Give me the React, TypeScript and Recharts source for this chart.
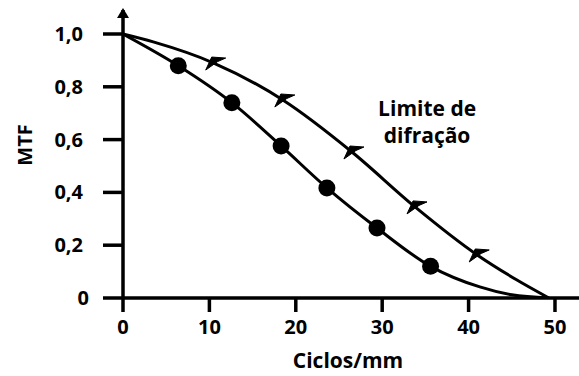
import React from 'react';
import { LineChart, Line, XAxis, YAxis, ReferenceDot } from 'recharts';

// Diffraction-limited curve (triangle markers)
const upperFreq = [0, 3.5, 10.5, 18.5, 26.5, 33.8, 41, 45.5, 49.3];
const upperMtf = [1.0, 0.97, 0.89, 0.75, 0.553, 0.345, 0.163, 0.07, 0];
const upperMarked = [false, false, true, true, true, true, true, false, false];

// Real lens curve (circle markers)
const lowerFreq = [0, 6.4, 12.6, 18.3, 23.6, 29.4, 35.6, 41.3, 45, 49.3];
const lowerMtf = [1.0, 0.88, 0.74, 0.576, 0.417, 0.265, 0.12, 0.042, 0.012, 0];
const lowerMarked = [false, true, true, true, true, true, true, false, false, false];

const xTicks = [0, 10, 20, 30, 40, 50];
const yTicks = [0, 0.2, 0.4, 0.6, 0.8, 1.0];
const yTickLabels = ['0', '0,2', '0,4', '0,6', '0,8', '1,0'];

const xLabel = 'Ciclos/mm';
const yLabel = 'MTF';
const annotationLines = ['Limite de', 'difração'];

const X_MAX = 52.78;
const Y_MAX = 1.0909;

const upperData = upperFreq.map((x, i) => ({ x, y: upperMtf[i], mk: upperMarked[i] }));
const lowerData = lowerFreq.map((x, i) => ({ x, y: lowerMtf[i], mk: lowerMarked[i] }));

const FONT = '"Open Sans", sans-serif';

const CircleDot = (props: any) => {
  const { cx, cy, payload, index } = props;
  if (!payload || !payload.mk) return <g key={`c${index}`} />;
  return <circle key={`c${index}`} cx={cx} cy={cy} r={8.5} fill="#000" />;
};

const ArrowDot = (props: any) => {
  const { cx, cy, payload, index } = props;
  if (!payload || !payload.mk) return <g key={`t${index}`} />;
  const d = `M ${cx - 8} ${cy + 7} L ${cx - 2} ${cy - 6} L ${cx + 12} ${cy - 5} L ${cx + 4} ${cy - 1.5} Z`;
  return <path key={`t${index}`} d={d} fill="#000" stroke="#000" strokeWidth={1} strokeLinejoin="round" />;
};

const YTick = (props: any) => {
  const { x, y, payload } = props;
  const idx = yTicks.indexOf(payload.value);
  const label = idx >= 0 ? yTickLabels[idx] : String(payload.value);
  const dx = payload.value === 0 ? 6 : 0;
  return (
    <text x={x + dx} y={y} dy="0.355em" textAnchor="end" fill="#000"
      fontFamily={FONT} fontWeight={700} fontSize={20}>
      {label}
    </text>
  );
};

const XTick = (props: any) => {
  const { x, y, payload } = props;
  return (
    <text x={x} y={y} dy="0.71em" textAnchor="middle" fill="#000"
      fontFamily={FONT} fontWeight={700} fontSize={20}>
      {payload.value}
    </text>
  );
};

export default function App() {
  return (
    <div style={{ position: 'absolute', left: 0, top: 0, background: '#fff' }}>
      <LineChart width={579} height={376} margin={{ top: 10, right: 0, bottom: 0, left: 0 }}>
        <XAxis
          type="number"
          dataKey="x"
          domain={[0, X_MAX]}
          ticks={xTicks}
          allowDataOverflow
          height={78}
          tickSize={14}
          tickMargin={8}
          axisLine={{ stroke: '#000', strokeWidth: 3.5 }}
          tickLine={{ stroke: '#000', strokeWidth: 3.5 }}
          tick={<XTick />}
          label={{ value: xLabel, position: 'insideBottom', offset: 8, dx: -3, fill: '#000', fontSize: 21, fontWeight: 700, fontFamily: FONT }}
        />
        <YAxis
          type="number"
          dataKey="y"
          domain={[0, Y_MAX]}
          ticks={yTicks}
          allowDataOverflow
          width={123}
          tickSize={20}
          tickMargin={20}
          axisLine={{ stroke: '#000', strokeWidth: 3.5 }}
          tickLine={{ stroke: '#000', strokeWidth: 3.5 }}
          tick={<YTick />}
          label={{
            content: () => (
              <text x={24} y={145} transform="rotate(-90, 24, 145)" textAnchor="middle" dominantBaseline="central"
                fill="#000" fontFamily={FONT} fontWeight={700} fontSize={20}>
                {yLabel}
              </text>
            ),
          }}
        />
        <Line
          data={upperData}
          dataKey="y"
          type="monotone"
          stroke="#000"
          strokeWidth={3}
          dot={ArrowDot}
          activeDot={false}
          isAnimationActive={false}
        />
        <Line
          data={lowerData}
          dataKey="y"
          type="monotone"
          stroke="#000"
          strokeWidth={3}
          dot={CircleDot}
          activeDot={false}
          isAnimationActive={false}
        />
        <ReferenceDot
          x={0}
          y={Y_MAX}
          ifOverflow="visible"
          shape={(p: any) => (
            <path d={`M ${p.cx - 6} ${p.cy + 8} L ${p.cx} ${p.cy - 2} L ${p.cx + 6} ${p.cy + 8} Z`} fill="#000" />
          )}
        />
        <ReferenceDot
          x={35.2}
          y={0.69}
          ifOverflow="visible"
          shape={(p: any) => (
            <text x={p.cx} y={p.cy} textAnchor="middle" fill="#000" fontFamily={FONT} fontWeight={700} fontSize={21}>
              <tspan x={p.cx} dy={0}>{annotationLines[0]}</tspan>
              <tspan x={p.cx} dy={27}>{annotationLines[1]}</tspan>
            </text>
          )}
        />
      </LineChart>
    </div>
  );
}
